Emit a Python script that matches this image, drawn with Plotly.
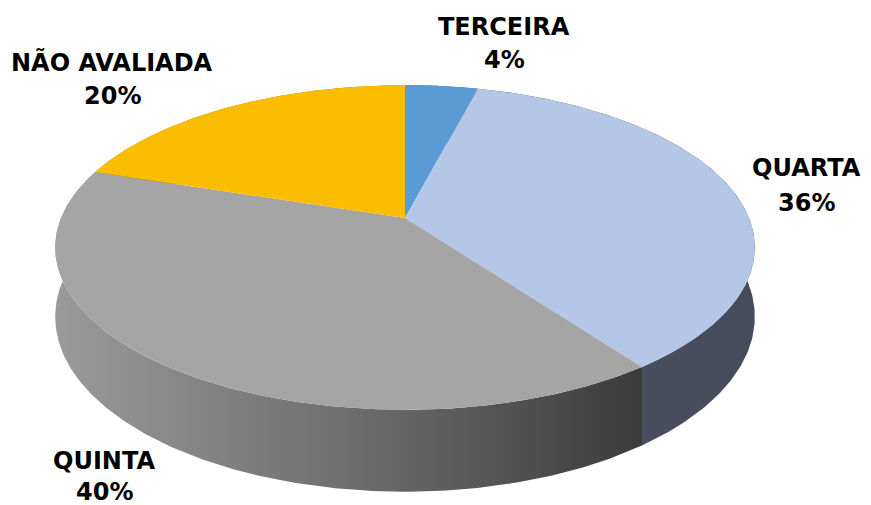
import numpy as np
import plotly.graph_objects as go

categories = ["TERCEIRA", "QUARTA", "QUINTA", "NÃO AVALIADA"]
values = [4, 36, 40, 20]
top_colors = ["#5b9bd5", "#b4c7e7", "#a5a5a5", "#fbbd00"]
wall_scales = [
    [[0, "#2f5f8f"], [1, "#2f5f8f"]],
    [[0, "#4c5263"], [1, "#464b5a"]],
    [[0, "#9a9a9a"], [0.5, "#6e6e6e"], [1, "#3b3b3b"]],
    [[0, "#a07800"], [1, "#a07800"]],
]
label_pos = [(504, 27, 60), (806, 168, 203), (104, 461, 492), (112, 62, 96)]

# projection parameters (perspective 3D pie)
cx, cy = 405.0, 218.0
B, A, k, H = 344.0, 157.0, 0.1815, 67.0


def proj(t_deg, z=0.0):
    t = np.radians(t_deg)
    X, Y = np.sin(t), np.cos(t)
    d = 1 + k * Y
    return cx + B * X / d, cy - A * Y / d + z * H / d


fig = go.Figure()
total = sum(values)
bounds = np.concatenate([[0], np.cumsum(values) / total * 360])

# walls, far to near
order = sorted(range(len(values)), key=lambda i: -np.cos(np.radians((bounds[i] + bounds[i + 1]) / 2)))
for i in order:
    t = np.linspace(bounds[i], bounds[i + 1], 200)
    xt, yt = proj(t, 0)
    xb, yb = proj(t[::-1], 1)
    fig.add_trace(go.Scatter(
        x=np.concatenate([xt, xb, xt[:1]]), y=np.concatenate([yt, yb, yt[:1]]),
        mode="lines", line=dict(width=0), fill="toself",
        fillgradient=dict(type="horizontal", colorscale=wall_scales[i]),
        hoverinfo="skip", showlegend=False))

# top faces
for i in range(len(values)):
    t = np.linspace(bounds[i], bounds[i + 1], 200)
    xt, yt = proj(t, 0)
    fig.add_trace(go.Scatter(
        x=np.concatenate([[cx], xt, [cx]]), y=np.concatenate([[cy], yt, [cy]]),
        mode="lines", line=dict(width=0), fill="toself", fillcolor=top_colors[i],
        name=categories[i], hoverinfo="name", showlegend=False))

font = dict(family="DejaVu Sans", size=24, color="black", weight="bold")
for i, cat in enumerate(categories):
    lx, ly1, ly2 = label_pos[i]
    fig.add_annotation(x=lx, y=ly1, text=cat, showarrow=False, font=font,
                       xanchor="center", yanchor="middle")
    fig.add_annotation(x=lx, y=ly2, text=f"{values[i]}%", showarrow=False, font=font,
                       xanchor="center", yanchor="middle")

# page body has an 8px margin: shrink the figure and offset the axis ranges
fig.update_layout(
    width=863, height=497, margin=dict(l=0, r=0, t=0, b=0),
    paper_bgcolor="white", plot_bgcolor="white",
    xaxis=dict(range=[8, 871], visible=False, fixedrange=True),
    yaxis=dict(range=[505, 8], visible=False, fixedrange=True),
)
fig.write_html("out.html")
